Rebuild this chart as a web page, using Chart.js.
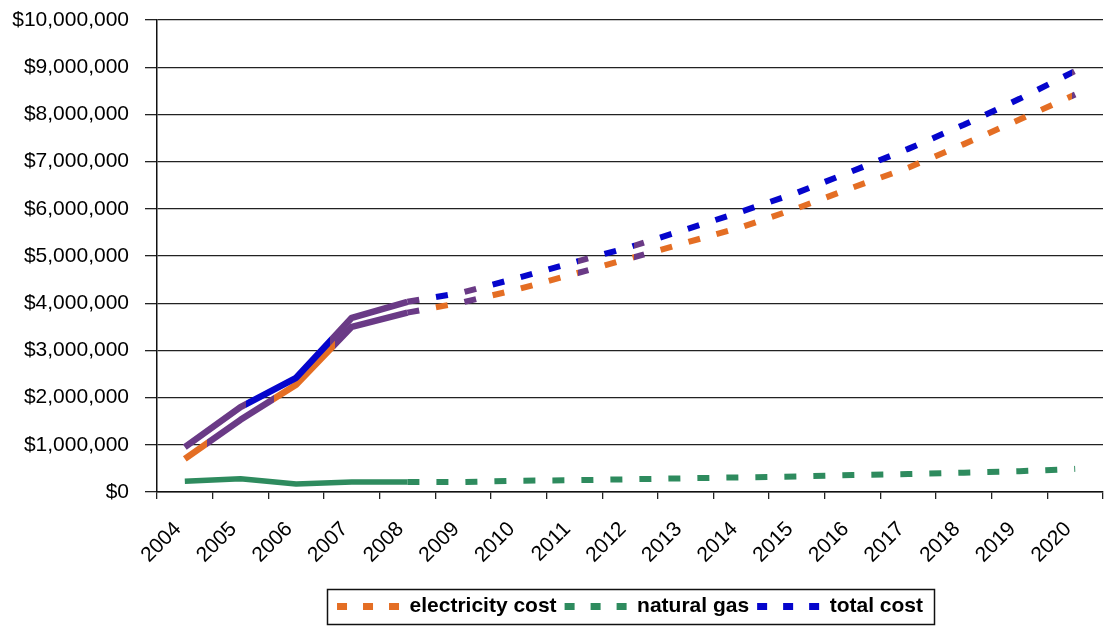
<!DOCTYPE html>
<html>
<head>
<meta charset="utf-8">
<title>Energy cost projection</title>
<script src="https://cdn.jsdelivr.net/npm/chart.js@4.4.1/dist/chart.umd.min.js"></script>
<style>
  html, body { margin: 0; padding: 0; background: #ffffff; overflow: hidden; }
  #wrap { width: 1104px; height: 628px; }
</style>
</head>
<body>
<div id="wrap"><canvas id="chart" width="1104" height="628"></canvas></div>
<script>
// ---- data -------------------------------------------------------------
const years = [2004, 2005, 2006, 2007, 2008, 2009, 2010, 2011, 2012,
               2013, 2014, 2015, 2016, 2017, 2018, 2019, 2020];
const lastActualYear = 2008;   // solid up to here, dashed projection after

const electricityCost = [700000, 1530000, 2270000, 3500000, 3800000, 4020000,
                         4300000, 4620000, 4950000, 5280000, 5610000, 6010000,
                         6450000, 6870000, 7370000, 7890000, 8420000];
const naturalGas = [230000, 280000, 170000, 210000, 210000, 210000, 240000,
                    250000, 270000, 290000, 310000, 330000, 360000, 380000,
                    410000, 440000, 490000];
const totalCost = [950000, 1800000, 2420000, 3690000, 4030000, 4230000,
                   4540000, 4870000, 5190000, 5560000, 5940000, 6340000,
                   6800000, 7270000, 7780000, 8330000, 8920000];

const yTickValues = [0, 1000000, 2000000, 3000000, 4000000, 5000000,
                     6000000, 7000000, 8000000, 9000000, 10000000];

// year ranges where the cost lines are drawn in the darker overlap colour
const totalOverlap = [[2003.9, 2005.1], [2006.6, 2008.25], [2008.97, 2009.27],
                      [2011.07, 2011.37], [2012.08, 2012.38], [2019.95, 2020.3]];
const electricityOverlap = [[2004.4, 2005.6], [2006.7, 2008.25], [2008.97, 2009.27],
                            [2011.07, 2011.37], [2012.08, 2012.38], [2019.95, 2020.3]];

// ---- styling ----------------------------------------------------------
const ORANGE = '#E46E24';
const GREEN = '#2E8B5E';
const BLUE = '#0505CC';
const PURPLE = '#6A3A86';
const FONT = '"Liberation Sans", Arial, Helvetica, sans-serif';

Chart.defaults.font.family = FONT;
Chart.defaults.color = '#000';

const points = vals => years.map((yr, i) => ({ x: yr, y: vals[i] }));
const actual = vals => points(vals).filter(p => p.x <= lastActualYear);
const projected = vals => points(vals).filter(p => p.x >= lastActualYear);

// horizontal gradient that switches to purple inside the given year ranges
function zonedStroke(base, zones) {
  return ctx => {
    const chart = ctx.chart;
    const area = chart.chartArea;
    const sx = chart.scales.xl;
    if (!area || !sx) return base;
    const w = area.right - area.left;
    const f = v => Math.min(1, Math.max(0, (sx.getPixelForValue(v) - area.left) / w));
    const g = chart.ctx.createLinearGradient(area.left, 0, area.right, 0);
    g.addColorStop(0, base);
    zones.forEach(([a, b]) => {
      const pa = f(a), pb = f(b);
      g.addColorStop(pa, base);
      g.addColorStop(pa, PURPLE);
      g.addColorStop(pb, PURPLE);
      g.addColorStop(pb, base);
    });
    g.addColorStop(1, base);
    return g;
  };
}

const solidLine = { borderWidth: 6.5, borderJoinStyle: 'round', borderCapStyle: 'butt',
                    pointRadius: 0, tension: 0, fill: false, xAxisID: 'xl', yAxisID: 'y' };
const dashedLine = { borderWidth: 6, borderDash: [12, 17], borderCapStyle: 'butt',
                     pointRadius: 0, tension: 0, fill: false, xAxisID: 'xl', yAxisID: 'y' };

const datasets = [
  { ...solidLine, label: 'total cost', data: actual(totalCost),
    borderColor: zonedStroke(BLUE, totalOverlap), order: 0 },
  { ...solidLine, label: 'electricity cost', data: actual(electricityCost),
    borderColor: zonedStroke(ORANGE, electricityOverlap), order: 1 },
  { ...solidLine, borderWidth: 5.5, label: 'natural gas', data: actual(naturalGas),
    borderColor: GREEN, order: 2 },
  { ...dashedLine, label: 'electricity cost', data: projected(electricityCost),
    borderColor: zonedStroke(ORANGE, electricityOverlap), order: 1,
    showInLegend: true, legendColor: ORANGE },
  { ...dashedLine, label: 'natural gas', data: projected(naturalGas),
    borderColor: GREEN, order: 2, showInLegend: true, legendColor: GREEN },
  { ...dashedLine, label: 'total cost', data: projected(totalCost),
    borderColor: zonedStroke(BLUE, totalOverlap), order: 0,
    showInLegend: true, legendColor: BLUE }
];

// thin frame around the legend entries
const legendFrame = {
  id: 'legendFrame',
  afterDraw(chart) {
    const boxes = chart.legend && chart.legend.legendHitBoxes;
    if (!boxes || !boxes.length) return;
    const left = Math.min(...boxes.map(b => b.left));
    const right = Math.max(...boxes.map(b => b.left + b.width));
    const top = Math.min(...boxes.map(b => b.top));
    const bottom = Math.max(...boxes.map(b => b.top + b.height));
    const c = chart.ctx;
    c.save();
    c.strokeStyle = '#111';
    c.lineWidth = 1.5;
    c.strokeRect(Math.round(left - 10) + 0.5, Math.round(top - 7) + 0.5,
                 Math.round(right - left + 21), Math.round(bottom - top + 14));
    c.restore();
  }
};

new Chart(document.getElementById('chart'), {
  type: 'line',
  data: { labels: years.map(String), datasets },
  options: {
    responsive: false,
    animation: false,
    devicePixelRatio: 1,
    layout: { padding: { top: 20, right: 1, left: 0, bottom: 1 } },
    scales: {
      x: {
        type: 'category',
        offset: true,
        grid: { offset: true, drawOnChartArea: false, drawTicks: true, tickLength: 7,
                color: '#222', lineWidth: 1.3 },
        border: { color: '#111', width: 1.5 },
        ticks: { autoSkip: false, minRotation: 45, maxRotation: 45, padding: 18,
                 labelOffset: -7, font: { size: 21 }, color: '#000' },
        afterFit: s => { s.height = 96; s.paddingLeft = 0; s.paddingRight = 0; }
      },
      xl: {
        type: 'linear',
        display: false,
        min: years[0] - 0.5,
        max: years[years.length - 1] + 0.5
      },
      y: {
        min: yTickValues[0],
        max: yTickValues[yTickValues.length - 1],
        afterBuildTicks: s => { s.ticks = yTickValues.map(v => ({ value: v })); },
        ticks: { padding: 16, font: { size: 21 }, color: '#000',
                 callback: v => '$' + Number(v).toLocaleString('en-US') },
        grid: { color: '#222', lineWidth: 1.3, tickLength: 12 },
        border: { color: '#111', width: 1.5 },
        afterFit: s => { s.width = 157; s.paddingTop = 0; s.paddingBottom = 0; }
      }
    },
    plugins: {
      tooltip: { enabled: false },
      legend: {
        position: 'bottom',
        fullSize: false,
        align: 'center',
        labels: {
          usePointStyle: true,
          pointStyle: 'line',
          pointStyleWidth: 62,
          boxHeight: 21,
          padding: 8,
          color: '#000',
          font: { size: 21, weight: 'bold' },
          generateLabels: chart => chart.data.datasets
            .map((ds, i) => ({ ds, i }))
            .filter(o => o.ds.showInLegend)
            .map(o => ({
              text: o.ds.label,
              fillStyle: o.ds.legendColor,
              strokeStyle: o.ds.legendColor,
              lineWidth: 7,
              lineDash: [10, 16],
              lineCap: 'butt',
              pointStyle: 'line',
              hidden: false,
              datasetIndex: o.i,
              fontColor: '#000'
            }))
        }
      }
    }
  },
  plugins: [legendFrame]
});
</script>
</body>
</html>
